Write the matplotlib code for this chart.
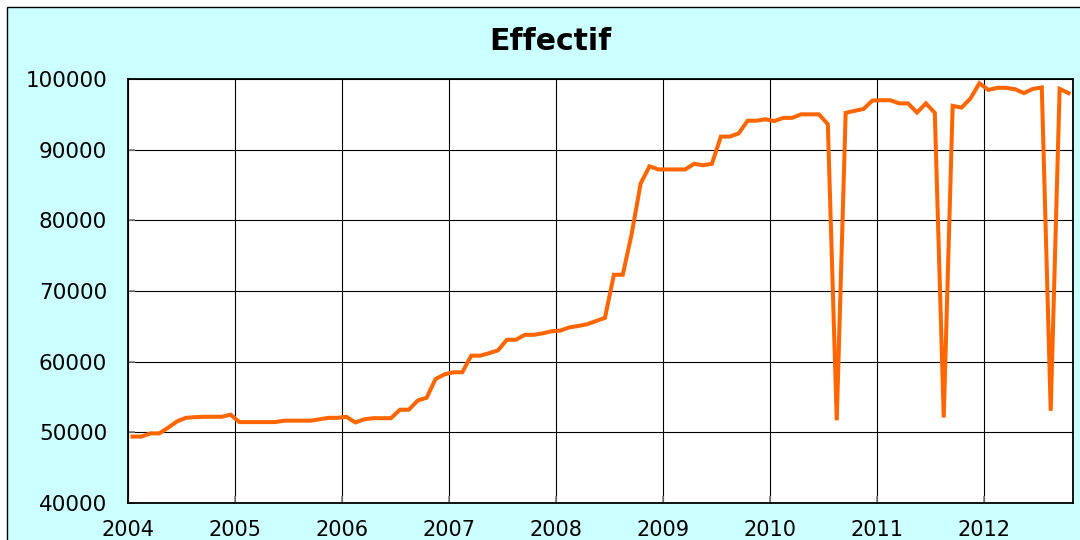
import matplotlib
matplotlib.use("Agg")
import matplotlib.pyplot as plt
from matplotlib.patches import Rectangle

# ---- data (monthly, Jan 2004 .. Oct 2012) ----
years = ["2004", "2005", "2006", "2007", "2008", "2009", "2010", "2011", "2012"]
values = [
    49400, 49400, 49850, 49850, 50650, 51550, 52050, 52150, 52200, 52200, 52200, 52500,  # 2004
    51450, 51450, 51450, 51450, 51450, 51650, 51650, 51650, 51650, 51850, 52050, 52050,  # 2005
    52200, 51400, 51850, 52000, 52000, 52000, 53200, 53200, 54500, 54900, 57550, 58200,  # 2006
    58500, 58500, 60850, 60850, 61200, 61600, 63100, 63100, 63800, 63800, 64000, 64300,  # 2007
    64400, 64850, 65050, 65300, 65750, 66200, 72300, 72300, 78100, 85200, 87650, 87200,  # 2008
    87200, 87200, 87200, 88000, 87800, 88000, 91850, 91850, 92300, 94100, 94100, 94300,  # 2009
    94050, 94500, 94500, 95000, 95000, 95000, 93600, 51700, 95200, 95500, 95750, 96950,  # 2010
    97000, 97000, 96550, 96550, 95250, 96550, 95200, 52100, 96200, 95950, 97250, 99400,  # 2011
    98450, 98750, 98750, 98550, 98000, 98600, 98800, 53050, 98600, 98000,                # 2012
]
y_ticks = [40000, 50000, 60000, 70000, 80000, 90000, 100000]
title = "Effectif"

W, H = 1080, 540
fig = plt.figure(figsize=(W / 100, H / 100), dpi=100, facecolor="white")

# cyan chart area with black border (cropped at right/bottom)
top = 1 - 7 / H
fig.patches.append(Rectangle((7 / W, -0.05), 1.1, top + 0.05, transform=fig.transFigure,
                             facecolor="#CCFFFF", edgecolor="black", linewidth=1.0,
                             zorder=-10))

left, right, ptop, pbottom = 128, 1073, 79, 503
ax = fig.add_axes([left / W, 1 - pbottom / H, (right - left) / W, (pbottom - ptop) / H])
ax.set_facecolor("white")

n_months = 106
xs = [i + 0.5 for i in range(len(values))]
ax.plot(xs, values, color="#FF6600", linewidth=2.9, solid_joinstyle="miter", zorder=3)

ax.set_xlim(0, n_months)
ax.set_ylim(40000, 100000)
ax.set_yticks(y_ticks)
ax.set_yticklabels([str(v) for v in y_ticks])
ax.set_xticks([12 * i for i in range(len(years))])
ax.set_xticklabels(years)

ax.grid(True, color="black", linewidth=0.8, zorder=1)
ax.set_axisbelow(True)
for s in ax.spines.values():
    s.set_color("black")
    s.set_linewidth(1.3)

ax.tick_params(axis="both", direction="in", length=5, color="#808080", width=1.2,
               labelsize=15.5, labelcolor="black")
ax.tick_params(axis="y", pad=15)
ax.tick_params(axis="x", pad=12, labelsize=15)
for lab in ax.get_xticklabels() + ax.get_yticklabels():
    lab.set_fontfamily("DejaVu Sans")

fig.text(550 / W, 1 - 41 / H, title, ha="center", va="center",
         fontsize=21.5, fontweight="bold", family="DejaVu Sans")

fig.savefig("out.png", dpi=100)
